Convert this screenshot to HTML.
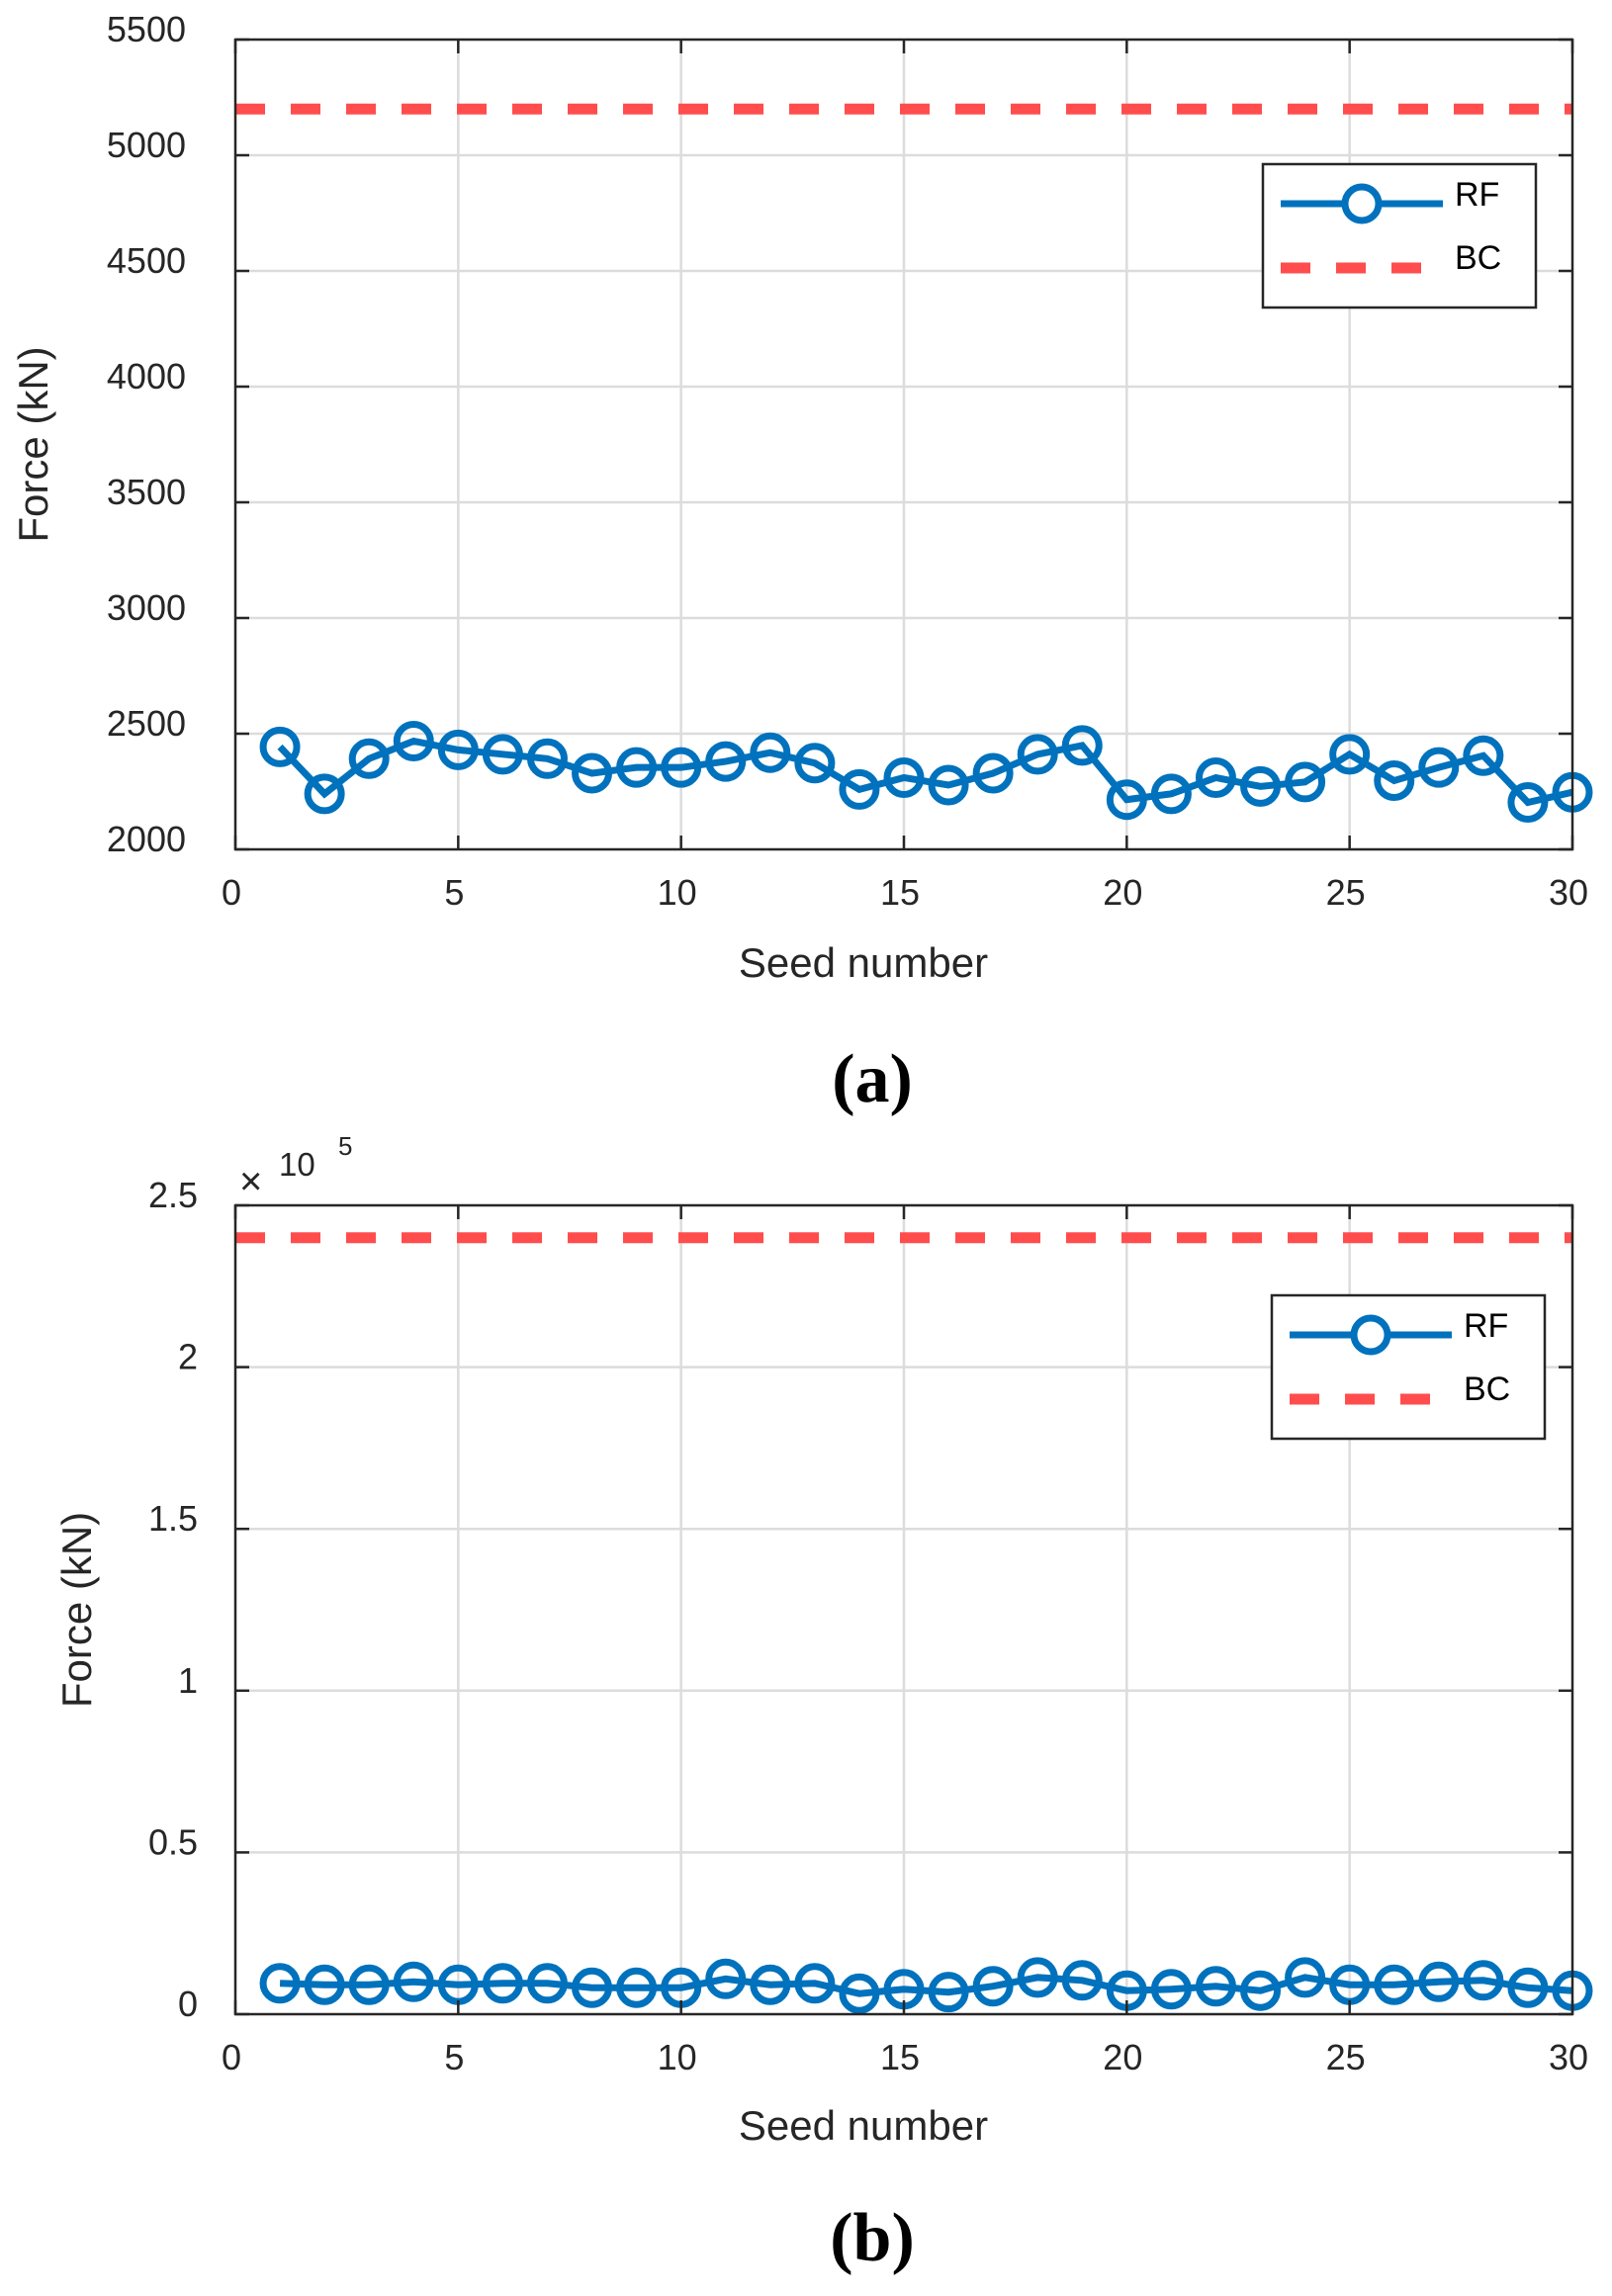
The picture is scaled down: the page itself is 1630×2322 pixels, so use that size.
<!DOCTYPE html>
<html><head><meta charset="utf-8"><style>
body{margin:0;background:#fff}
svg{display:block;font-family:"Liberation Sans",Arial,sans-serif}
</style></head><body>
<svg id="chart" width="1630" height="2322" viewBox="0 0 1630 2322" xmlns="http://www.w3.org/2000/svg"></svg>
<script>
const seeds=[1,2,3,4,5,6,7,8,9,10,11,12,13,14,15,16,17,18,19,20,21,22,23,24,25,26,27,28,29,30];
const rfA=[2443,2240,2392,2468,2430,2411,2392,2329,2354,2354,2380,2418,2373,2259,2310,2278,2329,2411,2449,2215,2240,2310,2272,2291,2411,2297,2354,2405,2203,2247];
const bcA=5200;
const rfB=[9545,9090,9090,10000,9090,9545,9545,8180,8180,8180,10910,9090,9545,6360,7730,6820,8640,11360,10450,7270,7730,8640,7270,11360,9090,9090,10000,10450,8180,7270];
const bcB=240000;
const yTicksA=[2000,2500,3000,3500,4000,4500,5000,5500];
const yTicksB=[0,0.5,1,1.5,2,2.5];
const xTicks=[0,5,10,15,20,25,30];

const NS="http://www.w3.org/2000/svg";
const svg=document.getElementById('chart');
function mk(tag,attrs,parent,text){const e=document.createElementNS(NS,tag);for(const k in attrs)e.setAttribute(k,attrs[k]);if(text!==undefined)e.textContent=text;(parent||svg).appendChild(e);return e;}

function panel(cfg){
  const g=mk('g',{});
  
  
  const L=238,R=1590,T=cfg.top,B=cfg.bottom;
  const xs=v=>L+(v-0)/30*(R-L);
  const ys=v=>B-(v-cfg.ymin)/(cfg.ymax-cfg.ymin)*(B-T);
  xTicks.forEach(t=>{ if(t>0&&t<30){const l=mk('line',{x1:xs(t),x2:xs(t),y1:T,y2:B,stroke:'#dcdcdc','stroke-width':2.5},g);
    }});
  cfg.yticks.forEach(t=>{const y=ys(t*cfg.tickScale); if(y>T+1&&y<B-1){const l=mk('line',{x1:L,x2:R,y1:y,y2:y,stroke:'#dcdcdc','stroke-width':2.5},g);
    }});
  const bc=mk('line',{x1:L,x2:R,y1:ys(cfg.bc),y2:ys(cfg.bc),stroke:'#ff4d4d','stroke-width':11,'stroke-dasharray':'30 26'},g);
  
  const pts=seeds.map((s,i)=>xs(s)+','+ys(cfg.rf[i])).join(' ');
  const pl=mk('polyline',{points:pts,fill:'none',stroke:'#0072bd','stroke-width':7},g);
  
  seeds.forEach((s,i)=>{const c=mk('ellipse',{cx:xs(s),cy:ys(cfg.rf[i]),rx:17,ry:17,fill:'none',stroke:'#0072bd','stroke-width':7},g);
    });
  const box=mk('rect',{x:L,y:T,width:R-L,height:B-T,fill:'none',stroke:'#262626','stroke-width':2.5},g);
  
  xTicks.forEach(t=>{
    mk('line',{x1:xs(t),x2:xs(t),y1:B,y2:B-14,stroke:'#262626','stroke-width':2.5},g);
    mk('line',{x1:xs(t),x2:xs(t),y1:T,y2:T+14,stroke:'#262626','stroke-width':2.5},g);
    const tx=mk('text',{x:xs(t)-4,y:B+56,'font-size':36,'text-anchor':'middle',fill:'#262626'},g,String(t));
    
  });
  cfg.yticks.forEach(t=>{const y=ys(t*cfg.tickScale);
    mk('line',{x1:L,x2:L+14,y1:y,y2:y,stroke:'#262626','stroke-width':2.5},g);
    mk('line',{x1:R,x2:R-14,y1:y,y2:y,stroke:'#262626','stroke-width':2.5},g);
    const tx=mk('text',{x:cfg.labelRight,y:y+2,'font-size':36,'text-anchor':'end',fill:'#262626'},g,String(t));
    
  });
  const xl=mk('text',{x:873,y:cfg.xlabelY,'font-size':42,'text-anchor':'middle',fill:'#262626'},g,'Seed number');
  
  const yl=mk('text',{x:0,y:0,'font-size':42,'text-anchor':'middle',fill:'#262626',transform:`translate(${cfg.ylabelX},${(T+B)/2}) rotate(-90)`},g,'Force (kN)');
  
  const lg=mk('g',{},g);
  const lx=cfg.legX,ly=cfg.legY;
  mk('rect',{x:lx,y:ly,width:276,height:145,fill:'#fff',stroke:'#262626','stroke-width':2.5},lg);
  mk('line',{x1:lx+18,x2:lx+182,y1:ly+40,y2:ly+40,stroke:'#0072bd','stroke-width':7},lg);
  mk('ellipse',{cx:lx+100,cy:ly+40,rx:17,ry:17,fill:'#fff',stroke:'#0072bd','stroke-width':7},lg);
  mk('text',{x:lx+194,y:ly+42,'font-size':34,fill:'#000'},lg,'RF');
  mk('line',{x1:lx+18,x2:lx+182,y1:ly+105,y2:ly+105,stroke:'#ff4d4d','stroke-width':11,'stroke-dasharray':'30 26'},lg);
  mk('text',{x:lx+194,y:ly+106,'font-size':34,fill:'#000'},lg,'BC');
  return g;
}
panel({name:'panel-a',top:40,bottom:859,ymin:2000,ymax:5500,rf:rfA,bc:bcA,yticks:yTicksA,tickScale:1,labelRight:188,xlabelY:988,ylabelX:48,legX:1277,legY:166});
panel({name:'panel-b',top:1219,bottom:2037,ymin:0,ymax:250000,rf:rfB,bc:bcB,yticks:yTicksB,tickScale:100000,labelRight:200,xlabelY:2164,ylabelX:92,legX:1286,legY:1310});
const ex=mk('text',{x:242,y:1208,'font-size':40,fill:'#262626'},svg,'×');

mk('text',{x:282,y:1189,'font-size':33,fill:'#262626'},svg,'10');
mk('text',{x:342,y:1168,'font-size':26,fill:'#262626'},svg,'5');
const a=mk('text',{x:882,y:1114,'font-size':70,'font-weight':'bold','text-anchor':'middle','font-family':'"Liberation Serif",serif',fill:'#000'},svg,'(a)');

const b=mk('text',{x:882,y:2286,'font-size':70,'font-weight':'bold','text-anchor':'middle','font-family':'"Liberation Serif",serif',fill:'#000'},svg,'(b)');

</script>
</body></html>
